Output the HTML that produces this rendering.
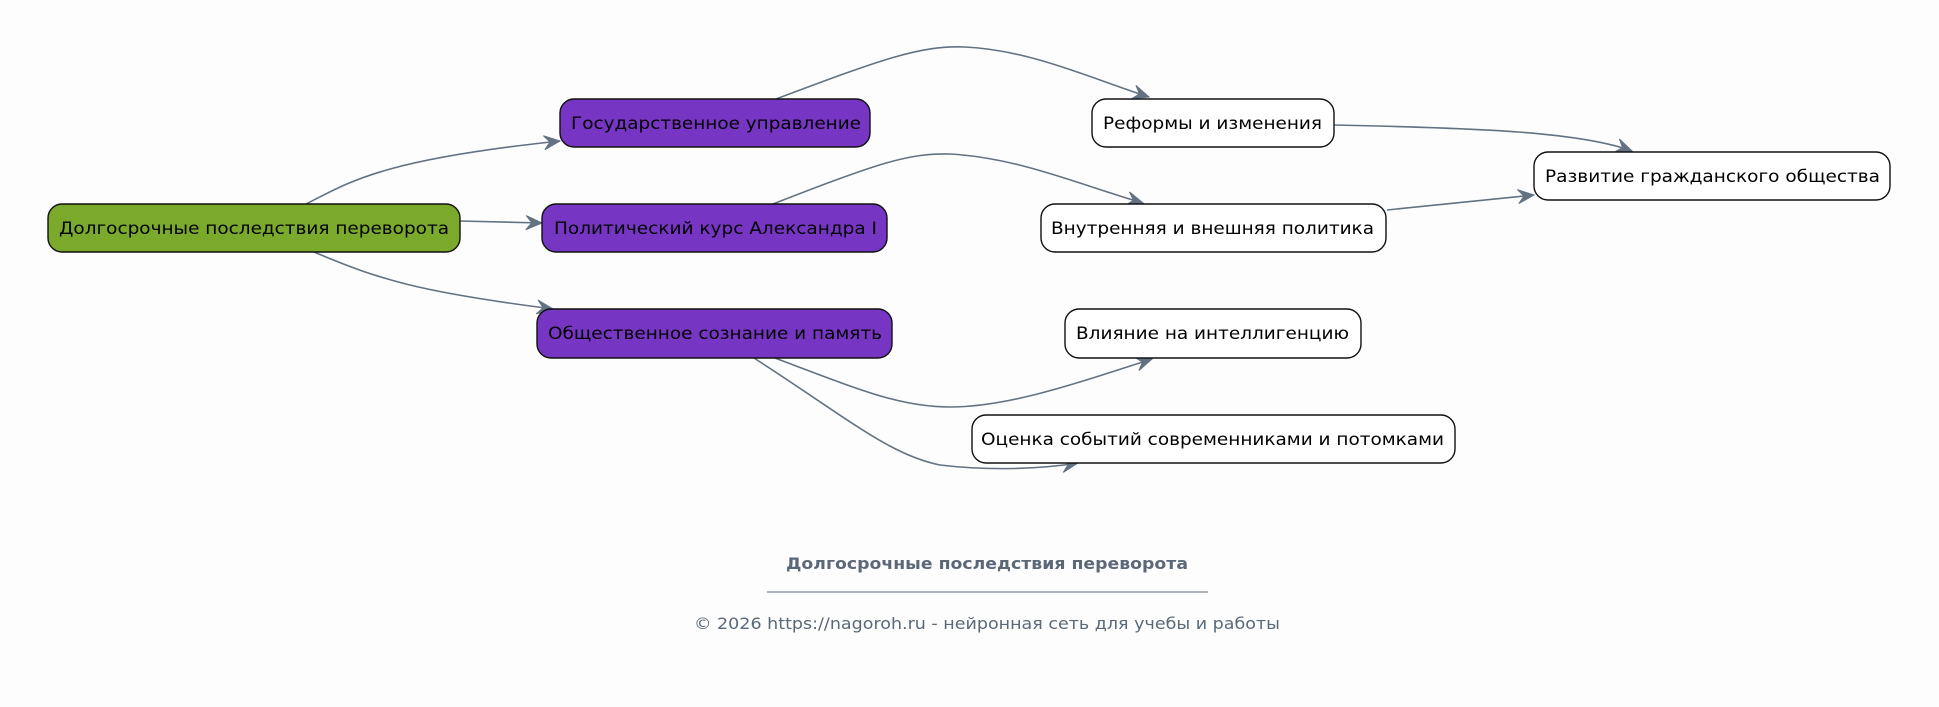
<!DOCTYPE html>
<html><head><meta charset="utf-8"><style>
html,body{margin:0;padding:0;background:#fdfdfd;}
svg{display:block;}
text{font-family:"DejaVu Sans","Liberation Sans",sans-serif;}
</style></head><body>
<svg width="1939" height="707" viewBox="0 0 1939 707" xmlns="http://www.w3.org/2000/svg">
<defs>
<marker id="a" markerWidth="20" markerHeight="16" refX="17" refY="8" orient="auto" markerUnits="userSpaceOnUse">
<path d="M1,1 L17,8 L1,15 L7,8 Z" fill="#627282" stroke="#627282" stroke-width="1"/>
</marker>
</defs>
<rect width="1939" height="707" fill="#fdfdfd"/>
<g fill="none" stroke="#627282" stroke-width="1.6" marker-end="url(#a)">
<path d="M306,204 C350,182 380,160 560,141"/>
<path d="M460,221 L542,223"/>
<path d="M314,252 C380,280 420,292 553,309"/>
<path d="M776,99 C880,60 920,45 965,47 C1030,50 1090,78 1149,97"/>
<path d="M773,204 C880,162 910,153 950,154 C1020,158 1080,185 1143,203"/>
<path d="M1334,125 C1480,128 1580,132 1632,151"/>
<path d="M1387,210 L1534,195"/>
<path d="M775,358 C860,390 900,407 950,407 C1010,407 1080,382 1152,359"/>
<path d="M754,358 C850,420 890,455 940,465 C990,471 1040,469 1078,463"/>
</g>
<g stroke="#111" stroke-width="1.4">
<rect x="48" y="204" width="412" height="48" rx="14" fill="#7aa92b"/>
<rect x="560" y="99" width="310" height="48" rx="14" fill="#7735c3"/>
<rect x="542" y="204" width="345" height="48" rx="14" fill="#7735c3"/>
<rect x="537" y="309" width="355" height="49" rx="14" fill="#7735c3"/>
<rect x="1092" y="99" width="242" height="48" rx="14" fill="#fff"/>
<rect x="1041" y="204" width="345" height="48" rx="14" fill="#fff"/>
<rect x="1534" y="152" width="356" height="48" rx="14" fill="#fff"/>
<rect x="1065" y="309" width="296" height="49" rx="14" fill="#fff"/>
<rect x="972" y="415" width="483" height="48" rx="14" fill="#fff"/>
</g>
<g font-size="17" fill="#000">
<text x="59" y="234" textLength="390" lengthAdjust="spacingAndGlyphs">Долгосрочные последствия переворота</text>
<text x="571" y="129" textLength="290" lengthAdjust="spacingAndGlyphs">Государственное управление</text>
<text x="554" y="234" textLength="323" lengthAdjust="spacingAndGlyphs">Политический курс Александра I</text>
<text x="548" y="339" textLength="334" lengthAdjust="spacingAndGlyphs">Общественное сознание и память</text>
<text x="1103" y="129" textLength="219" lengthAdjust="spacingAndGlyphs">Реформы и изменения</text>
<text x="1051" y="234" textLength="323" lengthAdjust="spacingAndGlyphs">Внутренняя и внешняя политика</text>
<text x="1545" y="182" textLength="335" lengthAdjust="spacingAndGlyphs">Развитие гражданского общества</text>
<text x="1076" y="339" textLength="273" lengthAdjust="spacingAndGlyphs">Влияние на интеллигенцию</text>
<text x="981" y="445" textLength="463" lengthAdjust="spacingAndGlyphs">Оценка событий современниками и потомками</text>
</g>
<text x="786" y="569" font-size="16" font-weight="bold" fill="#5a6878" textLength="402" lengthAdjust="spacingAndGlyphs">Долгосрочные последствия переворота</text>
<line x1="767" y1="592" x2="1208" y2="592" stroke="#5a6878" stroke-width="1"/>
<text x="694" y="629" font-size="16" fill="#5a6878" textLength="586" lengthAdjust="spacingAndGlyphs">© 2026 https://nagoroh.ru - нейронная сеть для учебы и работы</text>
</svg>
</body></html>
